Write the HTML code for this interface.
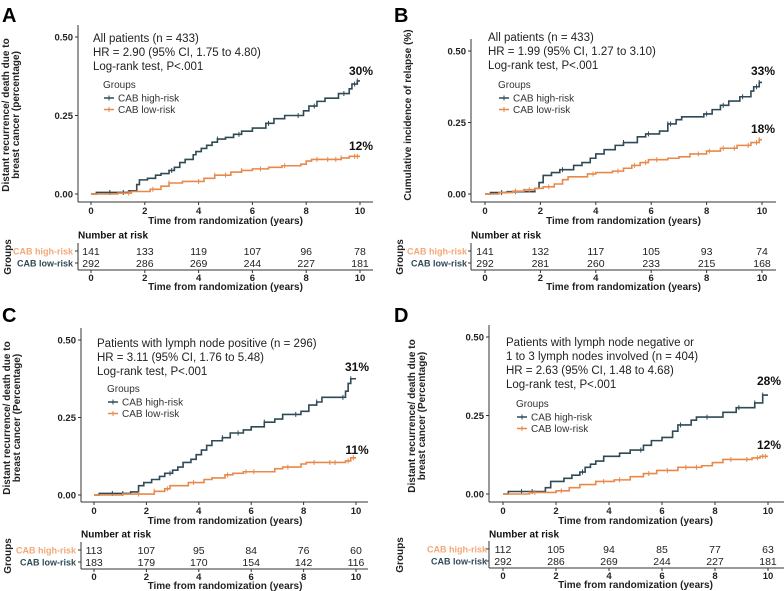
<!DOCTYPE html>
<html><head><meta charset="utf-8">
<style>
html,body{margin:0;padding:0;background:#fff;}
svg{display:block;font-family:"Liberation Sans",Arial,sans-serif;}
</style></head>
<body>
<svg id="fig" width="784" height="591" viewBox="0 0 784 591" xmlns="http://www.w3.org/2000/svg"></svg>
<script>
// ---- data ----
const xTicks = [0, 2, 4, 6, 8, 10];
const yTicks = [0, 0.25, 0.5];
const yTickLabels = ["0.00", "0.25", "0.50"];
const groupNames = ["CAB high-risk", "CAB low-risk"];

const aHighT = [0,0.2,1.4,1.7,1.8,2.1,2.4,2.6,2.9,3.1,3.3,3.5,3.8,3.9,4.1,4.3,4.5,4.7,5.0,5.3,5.6,6.0,6.5,6.8,7.2,7.9,8.1,8.4,8.7,9.2,9.6,9.7,9.9];
const aHighV = [0,0.005,0.01,0.03,0.045,0.05,0.06,0.065,0.075,0.085,0.1,0.11,0.125,0.135,0.145,0.155,0.165,0.175,0.18,0.19,0.2,0.21,0.225,0.24,0.25,0.265,0.28,0.295,0.305,0.32,0.335,0.35,0.36];
const aLowT = [0,1.0,1.5,2.2,2.6,2.9,3.4,4.2,4.6,5.2,5.6,6.0,6.6,7.1,7.8,8.0,8.2,9.3,9.6];
const aLowV = [0,0.003,0.008,0.015,0.025,0.035,0.04,0.05,0.06,0.07,0.075,0.08,0.085,0.09,0.095,0.105,0.11,0.115,0.12];

const bHighT = [0,0.2,0.8,1.8,1.95,2.1,2.4,2.7,3.2,3.5,3.8,4.0,4.3,4.7,5.0,5.5,5.8,6.3,6.6,6.9,7.1,7.9,8.2,8.5,8.8,9.2,9.6,9.7,9.9];
const bHighV = [0,0.005,0.008,0.02,0.04,0.065,0.075,0.085,0.1,0.11,0.125,0.14,0.155,0.17,0.18,0.2,0.21,0.22,0.245,0.26,0.27,0.28,0.295,0.31,0.325,0.34,0.36,0.375,0.39];
const bLowT = [0,0.5,1.0,1.4,1.8,2.1,2.5,2.8,3.0,3.7,4.0,4.6,5.0,5.3,5.6,5.9,6.6,7.0,7.4,8.0,8.5,9.1,9.6,9.9];
const bLowV = [0,0.005,0.01,0.015,0.02,0.025,0.035,0.05,0.06,0.07,0.075,0.08,0.09,0.1,0.11,0.12,0.125,0.13,0.14,0.15,0.16,0.17,0.18,0.19];

const cHighT = [0,0.2,1.4,1.7,1.9,2.2,2.5,2.7,3.0,3.2,3.4,3.7,3.9,4.1,4.3,4.5,4.9,5.2,5.7,6.0,6.5,6.9,7.2,7.9,8.2,8.5,8.7,9.6,9.7,9.8];
const cHighV = [0,0.005,0.01,0.03,0.04,0.05,0.06,0.07,0.08,0.09,0.105,0.115,0.13,0.145,0.16,0.175,0.185,0.2,0.21,0.22,0.235,0.245,0.26,0.27,0.29,0.3,0.315,0.335,0.36,0.375];
const cLowT = [0,1.1,2.3,2.7,2.9,3.6,4.2,4.5,5.0,5.3,5.7,6.9,7.2,7.9,8.1,9.6,9.8];
const cLowV = [0,0.003,0.012,0.02,0.03,0.04,0.05,0.055,0.065,0.07,0.075,0.085,0.09,0.1,0.105,0.11,0.12];

const dHighT = [0,0.2,1.6,1.8,2.3,2.6,2.9,3.1,3.3,3.5,3.8,4.4,4.8,5.3,5.6,6.0,6.4,6.6,7.1,7.3,8.3,8.8,9.5,9.8];
const dHighV = [0,0.008,0.02,0.04,0.05,0.06,0.07,0.085,0.095,0.105,0.12,0.13,0.14,0.155,0.17,0.18,0.2,0.22,0.235,0.245,0.26,0.275,0.29,0.315];
const dLowT = [0,1.0,2.0,2.5,2.9,3.5,4.2,4.8,5.3,5.8,6.6,7.5,7.9,8.3,9.4,9.7];
const dLowV = [0,0.005,0.01,0.02,0.03,0.04,0.045,0.055,0.065,0.075,0.085,0.09,0.1,0.11,0.115,0.12];

const aCensHigh = [0.7,1.2,3.0,4.7,5.5,6.6,7.7,8.3,9.4,9.8,9.9];
const aCensLow = [1.4,2.3,2.9,4.0,4.6,5.0,5.6,6.3,7.2,8.4,8.8,9.1,9.3,9.8,9.9];
const bCensHigh = [0.6,1.1,2.8,5.0,5.9,6.6,6.7,8.0,8.6,9.3,9.8,9.9];
const bCensLow = [1.1,1.6,2.3,3.9,4.8,5.4,5.8,6.2,7.7,8.1,8.6,9.0,9.5,9.8,9.9];
const cCensHigh = [0.7,1.1,2.9,4.9,5.5,6.5,7.7,8.5,9.5,9.8];
const cCensLow = [1.7,2.3,2.8,3.8,5.1,5.8,6.1,7.4,8.4,9.0,9.2,9.7,9.9];
const dCensHigh = [0.7,1.1,3.0,5.2,6.7,7.7,8.9,9.5,9.8];
const dCensLow = [1.2,2.2,3.8,4.4,5.5,6.2,6.9,7.3,8.6,9.2,9.6,9.8,9.9];

const aRiskHigh = [141,133,119,107,96,78];
const aRiskLow = [292,286,269,244,227,181];
const bRiskHigh = [141,132,117,105,93,74];
const bRiskLow = [292,281,260,233,215,168];
const cRiskHigh = [113,107,95,84,76,60];
const cRiskLow = [183,179,170,154,142,116];
const dRiskHigh = [112,105,94,85,77,63];
const dRiskLow = [292,286,269,244,227,181];

const aPct = ["30%","12%"]; const bPct = ["33%","18%"]; const cPct = ["31%","11%"]; const dPct = ["28%","12%"];

// ---- drawing ----
const NS = "http://www.w3.org/2000/svg";
const svg = document.getElementById("fig");
const HIGH = "#2f4a55", LOW = "#e8894a", LOWLBL = "#f2a877";
function el(tag, attrs, parent, txt){
  const e = document.createElementNS(NS, tag);
  for (const k in attrs) e.setAttribute(k, attrs[k]);
  if (txt !== undefined) e.textContent = txt;
  (parent || svg).appendChild(e);
  return e;
}

const panels = [
 {id:"a", letter:"A", lx:2, ly:22, ax:78, x0:91, x1:360, y0:194, yh:37, axY:202, axEnd:373,
  ylab:["Distant recurrence/ death due to","breast cancer (percentage)"], ylx:14, yly:115,
  text:["All patients (n = 433)","HR = 2.90 (95% CI, 1.75 to 4.80)","Log-rank test, P<.001"], tx:93, ty:38, tdy:14, gy:84,
  hT:aHighT,hV:aHighV,lT:aLowT,lV:aLowV,cH:aCensHigh,cL:aCensLow,rH:aRiskHigh,rL:aRiskLow,pct:aPct,pyH:71,pyL:146,
  nar:235, r1:251, r2:263, rAx:270, rLabX:73},
 {id:"b", letter:"B", lx:394, ly:22, ax:471, x0:485, x1:762, y0:194, yh:51, axY:202, axEnd:776,
  ylab:["Cumulative incidence of relapse (%)"], ylx:411, yly:115,
  text:["All patients (n = 433)","HR = 1.99 (95% CI, 1.27 to 3.10)","Log-rank test, P<.001"], tx:488, ty:37, tdy:14, gy:84,
  hT:bHighT,hV:bHighV,lT:bLowT,lV:bLowV,cH:bCensHigh,cL:bCensLow,rH:bRiskHigh,rL:bRiskLow,pct:bPct,pyH:71,pyL:129,
  nar:235, r1:251, r2:263, rAx:270, rLabX:467},
 {id:"c", letter:"C", lx:2, ly:322, ax:81, x0:94, x1:356, y0:495, yh:340, axY:502, axEnd:368,
  ylab:["Distant recurrence/ death due to","breast cancer (Percentage)"], ylx:15, yly:418,
  text:["Patients with lymph node positive (n = 296)","HR = 3.11 (95% CI, 1.76 to 5.48)","Log-rank test, P<.001"], tx:97, ty:343, tdy:14, gy:388,
  hT:cHighT,hV:cHighV,lT:cLowT,lV:cLowV,cH:cCensHigh,cL:cCensLow,rH:cRiskHigh,rL:cRiskLow,pct:cPct,pyH:367,pyL:450,
  nar:534, r1:550, r2:562, rAx:569, rLabX:76},
 {id:"d", letter:"D", lx:394, ly:322, ax:489, x0:503, x1:768, y0:494, yh:337, axY:502, axEnd:784,
  ylab:["Distant recurrence/ death due to","breast cancer (Percentage)"], ylx:420, yly:416,
  text:["Patients with lymph node negative or","1 to 3 lymph nodes involved (n = 404)","HR = 2.63 (95% CI, 1.48 to 4.68)","Log-rank test, P<.001"], tx:506, ty:342, tdy:14, gy:403,
  hT:dHighT,hV:dHighV,lT:dLowT,lV:dLowV,cH:dCensHigh,cL:dCensLow,rH:dRiskHigh,rL:dRiskLow,pct:dPct,pyH:381,pyL:445,
  nar:534, r1:549, r2:561, rAx:568, rLabX:487}
];

function stepVal(T, V, t){ let v = V[0]; for (let i=0;i<T.length;i++){ if (T[i] <= t) v = V[i]; } return v; }

panels.forEach(p => {
  const g = el("g", { });
  const sx = t => p.x0 + (p.x1 - p.x0) * t / 10;
  const sy = v => p.y0 + (p.yh - p.y0) * v / 0.5;

  const L = el("text", {x:p.lx, y:p.ly, "font-size":"20", "font-weight":"bold", fill:"#000"}, g, p.letter);
  
  

  const ya = el("line", {x1:p.ax, y1:p.yh-12, x2:p.ax, y2:p.axY, stroke:"#333", "stroke-width":"1"}, g);
  
  
  const xa = el("line", {x1:p.ax, y1:p.axY, x2:p.axEnd, y2:p.axY, stroke:"#333", "stroke-width":"1"}, g);
  
  

  yTicks.forEach((v,i) => {
    el("line", {x1:p.ax-3, y1:sy(v), x2:p.ax, y2:sy(v), stroke:"#333"}, g);
    const t = el("text", {x:p.ax-5, y:sy(v)+3.5, "font-size":"9.5", "font-weight":"bold", "text-anchor":"end", fill:"#222"}, g, yTickLabels[i]);
    
    
  });
  xTicks.forEach(v => {
    el("line", {x1:sx(v), y1:p.axY, x2:sx(v), y2:p.axY+3, stroke:"#333"}, g);
    const t = el("text", {x:sx(v), y:p.axY+12, "font-size":"9.5", "font-weight":"bold", "text-anchor":"middle", fill:"#222"}, g, String(v));
    
    
  });
  const xt = el("text", {x:(p.x0+p.x1)/2, y:p.axY+22, "font-size":"10", "font-weight":"bold", "text-anchor":"middle", fill:"#222"}, g, "Time from randomization (years)");
  
  

  const yl = el("text", {transform:`translate(${p.ylx},${p.yly}) rotate(-90)`, "font-size":"10", "font-weight":"bold", "text-anchor":"middle", fill:"#222"}, g);
  
  
  p.ylab.forEach((s,i) => el("tspan", {x:0, dy: i===0 ? (p.ylab.length>1?-5:0) : 10}, yl, s));

  p.text.forEach((s,i) => {
    const t = el("text", {x:p.tx, y:p.ty+i*p.tdy+4, "font-size":"11.5", fill:"#222"}, g, s);
    
    
  });

  const lg = el("g", {}, g);
  
  
  const gx = p.tx + 11;
  el("text", {x:gx-1, y:p.gy+4, "font-size":"10", fill:"#333"}, lg, "Groups");
  [[HIGH,groupNames[0]],[LOW,groupNames[1]]].forEach((e,i) => {
    const yy = p.gy + 14 + i*11.5;
    const le = el("g", {}, lg);
    
    
    el("line", {x1:gx, y1:yy, x2:gx+10, y2:yy, stroke:e[0], "stroke-width":"1.5"}, le);
    el("line", {x1:gx+5, y1:yy-2.5, x2:gx+5, y2:yy+2.5, stroke:e[0], "stroke-width":"1"}, le);
    el("text", {x:gx+14, y:yy+3.5, "font-size":"10", fill:"#333"}, le, e[1]);
  });

  [[p.hT,p.hV,p.cH,HIGH,"high"],[p.lT,p.lV,p.cL,LOW,"low"]].forEach(s => {
    const [T,V,C,col,nm] = s;
    let d = `M${sx(T[0])},${sy(V[0])}`;
    for (let i=1;i<T.length;i++){ d += `H${sx(T[i])}V${sy(V[i])}`; }
    d += `H${sx(10)}`;
    const path = el("path", {d, fill:"none", stroke:col, "stroke-width":"1.6"}, g);
    
    
    C.forEach(t => {
      const y = sy(stepVal(T,V,t));
      const m = el("line", {x1:sx(t), y1:y-2.5, x2:sx(t), y2:y+2.5, stroke:col, "stroke-width":"1"}, g);
      
      
    });
  });

  [[p.pct[0],p.pyH],[p.pct[1],p.pyL]].forEach((e,i) => {
    const t = el("text", {x:sx(10)+1, y:e[1]+4, "font-size":"12", "font-weight":"bold", "text-anchor":"middle", fill:"#111"}, g, e[0]);
    
    
  });

  const rt = el("g", {}, g);
  
  
  el("text", {x:p.ax, y:p.nar+3.5, "font-size":"10", "font-weight":"bold", fill:"#111"}, rt, "Number at risk");
  el("line", {x1:p.ax, y1:p.r1-8, x2:p.ax, y2:p.rAx, stroke:"#333"}, rt);
  el("line", {x1:p.ax, y1:p.rAx, x2:p.axEnd, y2:p.rAx, stroke:"#333"}, rt);
  el("text", {transform:`translate(${p.lx+9},${(p.r1+p.r2)/2}) rotate(-90)`, "font-size":"10", "font-weight":"bold", "text-anchor":"middle", fill:"#222"}, rt, "Groups");
  [[p.r1,LOWLBL,groupNames[0],p.rH],[p.r2,HIGH,groupNames[1],p.rL]].forEach(r => {
    el("line", {x1:p.ax-3, y1:r[0], x2:p.ax, y2:r[0], stroke:"#333"}, rt);
    el("text", {x:p.rLabX, y:r[0]+3.5, "font-size":"9", "font-weight":"bold", "text-anchor":"end", fill:r[1]}, rt, r[2]);
    xTicks.forEach((v,i) => {
      const t = el("text", {x:sx(v), y:r[0]+4, "font-size":"10.5", "text-anchor":"middle", fill:"#222"}, rt, String(r[3][i]));
      
      
    });
  });
  xTicks.forEach(v => {
    el("line", {x1:sx(v), y1:p.rAx, x2:sx(v), y2:p.rAx+3, stroke:"#333"}, rt);
    el("text", {x:sx(v), y:p.rAx+11, "font-size":"9.5", "font-weight":"bold", "text-anchor":"middle", fill:"#222"}, rt, String(v));
  });
  el("text", {x:(p.x0+p.x1)/2, y:p.rAx+20, "font-size":"10", "font-weight":"bold", "text-anchor":"middle", fill:"#222"}, rt, "Time from randomization (years)");
});
</script>
</body></html>
